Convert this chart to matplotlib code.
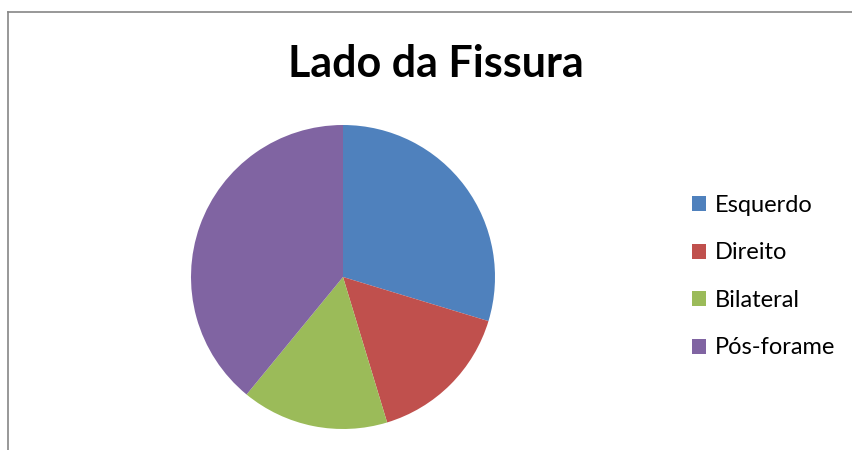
import matplotlib
matplotlib.use("Agg")
import matplotlib.pyplot as plt
from matplotlib.patches import Patch
from matplotlib.lines import Line2D

# dados do gráfico
labels = ["Esquerdo", "Direito", "Bilateral", "Pós-forame"]
values = [19, 10, 10, 25]
colors = ["#4F81BD", "#C0504D", "#9BBB59", "#8064A2"]
title = "Lado da Fissura"

plt.rcParams['font.family'] = ['Lato', 'DejaVu Sans']

fig = plt.figure(figsize=(8.53, 4.5), dpi=100)
W, H = 853, 450

# borda da área do gráfico (só topo e esquerda visíveis)
fig.add_artist(Line2D([8 / W, 8 / W], [0, 1 - 12 / H], color="#868686", lw=1.2,
                      transform=fig.transFigure))
fig.add_artist(Line2D([8 / W, 1], [1 - 12 / H, 1 - 12 / H], color="#868686", lw=1.2,
                      transform=fig.transFigure))

# pizza
cx, cy, r = 343, 277, 152
ax = fig.add_axes([(cx - r) / W, (H - cy - r) / H, 2 * r / W, 2 * r / H])
ax.pie(values, colors=colors, startangle=90, counterclock=False, radius=1,
       wedgeprops=dict(linewidth=0))
ax.set_xlim(-1, 1)
ax.set_ylim(-1, 1)
ax.set_aspect("equal")
ax.axis("off")

fig.text(436 / W, 1 - 77 / H, title, ha="center", va="baseline",
         fontsize=31, fontweight="bold", color="black")

handles = [Patch(facecolor=c, edgecolor="none") for c in colors]
fig.legend(handles, labels, loc="upper left", bbox_to_anchor=(692 / W, 1 - 195 / H),
           frameon=False, fontsize=17, handlelength=0.6, handleheight=0.6,
           handletextpad=0.35, labelspacing=1.12, borderaxespad=0, borderpad=0)

fig.savefig("out.png", dpi=100)
